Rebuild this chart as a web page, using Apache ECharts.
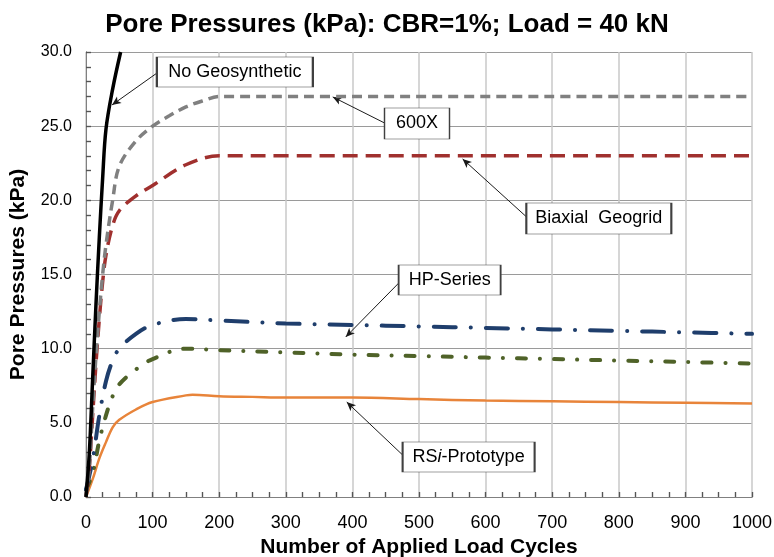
<!DOCTYPE html>
<html>
<head>
<meta charset="utf-8">
<script src="https://cdn.jsdelivr.net/npm/echarts@6/dist/echarts.min.js"></script>
<style>
html,body{margin:0;padding:0;background:#fff;}
#chart{width:774px;height:557px;}
</style>
</head>
<body>
<div id="chart"></div>
<script>
// ---- Data (cycles, kPa) ----
const noGeoX   = [0, 5, 10, 15, 20, 25, 30, 40, 52];
const noGeoY   = [0, 3, 8, 13, 17.5, 21.5, 24.8, 27.5, 30];

const x600X    = [0, 5, 10, 15, 20, 25, 30, 40, 50, 75, 100, 125, 150, 175, 200, 1000];
const y600X    = [0, 2, 6, 9.5, 12.5, 15, 17, 20, 22.3, 24, 25, 25.7, 26.3, 26.7, 27, 27];

const biaxX    = [0, 5, 10, 15, 20, 25, 30, 40, 50, 75, 100, 150, 200, 1000];
const biaxY    = [0, 2, 5.5, 9, 12, 14.5, 16.3, 18.3, 19.3, 20.3, 21, 22.4, 23, 23];

const hpX      = [0, 10, 20, 30, 40, 50, 75, 100, 150, 200, 300, 400, 500, 600, 700, 800, 900, 1000];
const hpY      = [0.5, 2.5, 5.5, 7.8, 9.2, 10, 11, 11.6, 12, 11.9, 11.7, 11.6, 11.5, 11.4, 11.3, 11.2, 11.1, 11.0];

const gX       = [0, 10, 20, 30, 40, 50, 75, 100, 150, 200, 300, 400, 500, 600, 700, 800, 900, 1000];
const gY       = [0.5, 1.6, 3.8, 5.5, 6.8, 7.6, 8.6, 9.3, 10, 9.9, 9.75, 9.6, 9.5, 9.4, 9.3, 9.2, 9.1, 9.0];

const rsiX     = [0, 10, 20, 30, 40, 50, 75, 100, 150, 160, 200, 250, 300, 400, 500, 600, 700, 800, 900, 1000];
const rsiY     = [0, 1.2, 2.6, 3.7, 4.7, 5.2, 5.9, 6.4, 6.85, 6.9, 6.8, 6.75, 6.7, 6.7, 6.6, 6.5, 6.45, 6.4, 6.35, 6.3];

const xTicks = [0, 100, 200, 300, 400, 500, 600, 700, 800, 900, 1000];
const yTicks = [0, 5, 10, 15, 20, 25, 30];

// ---- Annotation callouts (data units) ----
const callouts = [
  {text: 'No Geosynthetic', box: [223.5, 28.65], size: [156, 30], from: [106.5, 28.58], to: [39, 26.43]},
  {text: '600X',            box: [497, 25.18],   size: [65, 31],  from: [448.5, 25.21], to: [370.5, 26.97]},
  {text: 'Biaxial  Geogrid', box: [770, 18.78],  size: [145, 31], from: [661.5, 18.88], to: [565.5, 22.79]},
  {text: 'HP-Series',       box: [546, 14.63],   size: [102, 30], from: [471, 14.49],   to: [390, 10.79]},
  {text: '{n|RS}{i|i}{n|-Prototype}', box: [574.5, 2.70], size: [132, 30], from: [475.5, 2.83], to: [391.5, 6.40]}
];

function pairs(xs, ys) { return xs.map((x, i) => [x, ys[i]]); }

const FONT = '"Liberation Sans", Arial, sans-serif';

const chart = echarts.init(document.getElementById('chart'), null, {renderer: 'canvas'});

const SMOOTH = 0.35;
const GRID_POS = {left: 86, right: 22, top: 52, bottom: 60};
const xMin = xTicks[0], xMax = xTicks[xTicks.length - 1];
const yMin = yTicks[0], yMax = yTicks[yTicks.length - 1];
const TICK = {color: '#555', width: 1.2};

const option = {
  animation: false,
  title: {
    text: 'Pore Pressures (kPa): CBR=1%; Load = 40 kN',
    left: 'center', top: 7,
    textStyle: {fontFamily: FONT, fontWeight: 'bold', fontSize: 26, color: '#000'}
  },
  grid: [
    Object.assign({outerBoundsMode: 'none'}, GRID_POS),
    Object.assign({outerBoundsMode: 'none'}, GRID_POS)
  ],
  xAxis: [
    {
      gridIndex: 0, type: 'value', min: xMin, max: xMax, interval: 100,
      name: 'Number of Applied Load Cycles', nameLocation: 'middle', nameGap: 40,
      nameTextStyle: {fontFamily: FONT, fontWeight: 'bold', fontSize: 21, color: '#000'},
      axisLine: {show: true, lineStyle: {color: '#808080', width: 1}},
      axisTick: {show: true, inside: true, length: 5, lineStyle: TICK},
      axisLabel: {fontFamily: FONT, fontSize: 18, color: '#000', margin: 17,
                  formatter: v => String(v)},
      splitLine: {show: true, lineStyle: {color: '#c8c8c8', width: 1.5}},
      minorTick: {show: true, splitNumber: 4, length: 5, lineStyle: TICK}
    },
    {
      gridIndex: 1, type: 'value', min: xMin, max: xMax, interval: 100,
      axisLine: {show: true, lineStyle: {color: '#808080', width: 1}},
      axisTick: {show: true, inside: true, length: 5, lineStyle: TICK},
      axisLabel: {show: true, color: 'rgba(0,0,0,0)', fontSize: 18, margin: 17,
                  formatter: v => String(v)},
      splitLine: {show: false},
      minorTick: {show: true, splitNumber: 4, length: 5, lineStyle: TICK}
    }
  ],
  yAxis: [
    {
      gridIndex: 0, type: 'value', min: yMin, max: yMax, interval: 5,
      name: 'Pore Pressures (kPa)', nameLocation: 'middle', nameGap: 57,
      nameTextStyle: {fontFamily: FONT, fontWeight: 'bold', fontSize: 21, color: '#000'},
      axisLine: {show: true, lineStyle: {color: '#808080', width: 1}},
      axisTick: {show: true, inside: true, length: 5, lineStyle: TICK},
      axisLabel: {fontFamily: FONT, fontSize: 16, color: '#000', margin: 14,
                  formatter: v => v.toFixed(1)},
      splitLine: {show: true, lineStyle: {color: '#9a9a9a', width: 1}},
      minorTick: {show: true, splitNumber: 5, length: 5, lineStyle: TICK}
    },
    {
      gridIndex: 1, type: 'value', min: yMin, max: yMax, interval: 5,
      axisLine: {show: true, lineStyle: {color: '#808080', width: 1}},
      axisTick: {show: true, inside: true, length: 5, lineStyle: TICK},
      axisLabel: {show: true, color: 'rgba(0,0,0,0)', fontSize: 16, margin: 14,
                  formatter: v => v.toFixed(1)},
      splitLine: {show: false},
      minorTick: {show: true, splitNumber: 5, length: 5, lineStyle: TICK}
    }
  ],
  series: [
    {
      name: 'tick-carrier', type: 'line', xAxisIndex: 1, yAxisIndex: 1,
      data: pairs(rsiX, rsiY), showSymbol: false, silent: true, z: 1,
      lineStyle: {opacity: 0, width: 0}
    },
    {
      name: 'RSi-Prototype', type: 'line', data: pairs(rsiX, rsiY),
      showSymbol: false, smooth: SMOOTH, z: 2,
      lineStyle: {color: '#E8843A', width: 2.5}
    },
    {
      name: 'Green', type: 'line', data: pairs(gX, gY),
      showSymbol: false, smooth: SMOOTH, z: 3,
      lineStyle: {color: '#4F6228', width: 4, type: [9, 14, 0.1, 14], cap: 'round'}
    },
    {
      name: 'HP-Series', type: 'line', data: pairs(hpX, hpY),
      showSymbol: false, smooth: SMOOTH, z: 4,
      lineStyle: {color: '#1F3E6C', width: 4, type: [22, 15, 0.1, 15], cap: 'round'}
    },
    {
      name: 'Biaxial Geogrid', type: 'line', data: pairs(biaxX, biaxY),
      showSymbol: false, smooth: SMOOTH, z: 5,
      lineStyle: {color: '#A0302E', width: 3.5, type: [15, 8]}
    },
    {
      name: '600X', type: 'line', data: pairs(x600X, y600X),
      showSymbol: false, smooth: SMOOTH, z: 6,
      lineStyle: {color: '#808080', width: 3.5, type: [10, 6]}
    },
    {
      name: 'No Geosynthetic', type: 'line', data: pairs(noGeoX, noGeoY),
      showSymbol: false, smooth: SMOOTH, z: 7,
      lineStyle: {color: '#000', width: 3.5}
    },
    {
      name: 'callouts', type: 'line', data: [], z: 10, silent: true,
      markLine: {
        silent: true, animation: false,
        symbol: ['none', 'arrow'], symbolSize: [6, 9], precision: 4,
        lineStyle: {color: '#1a1a1a', width: 1, type: 'solid'},
        label: {show: false},
        data: callouts.map(c => [{coord: c.from}, {coord: c.to}])
      },
      markPoint: {
        silent: true, animation: false,
        data: callouts.map(c => ({
          coord: c.box, symbol: 'rect', symbolSize: c.size,
          itemStyle: {color: '#fff', borderColor: '#404040', borderWidth: 1},
          label: {
            show: true, position: 'inside', formatter: c.text,
            fontFamily: FONT, fontSize: 18, color: '#000',
            rich: {
              n: {fontFamily: FONT, fontSize: 18, color: '#000'},
              i: {fontFamily: FONT, fontSize: 18, color: '#000', fontStyle: 'italic'}
            }
          }
        }))
      }
    }
  ]
};
chart.setOption(option);
</script>
</body>
</html>
